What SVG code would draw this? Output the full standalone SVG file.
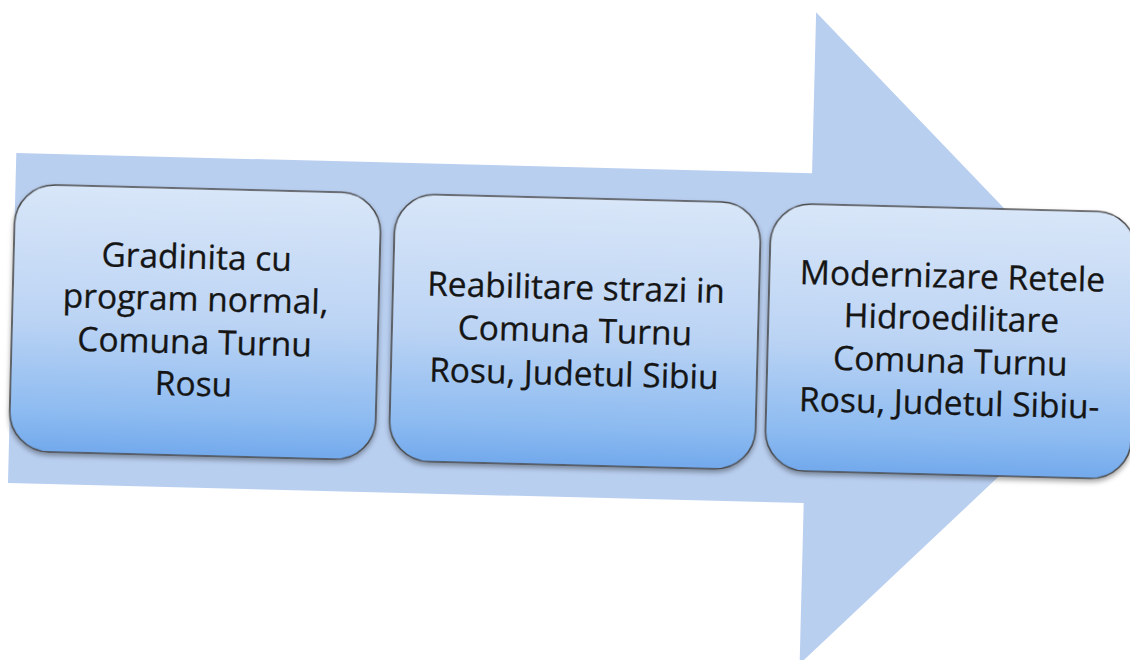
<svg xmlns="http://www.w3.org/2000/svg" width="1130" height="660" viewBox="0 0 1130 660">
<defs>
<linearGradient id="boxGrad" x1="0" y1="0" x2="0" y2="1">
<stop offset="0" stop-color="#d8e6f8"/>
<stop offset="0.5" stop-color="#bcd4f4"/>
<stop offset="0.85" stop-color="#8dbbf1"/>
<stop offset="1" stop-color="#72a9ec"/>
</linearGradient>
<filter id="shadow" x="-10%" y="-10%" width="120%" height="130%">
<feDropShadow dx="0" dy="3" stdDeviation="2.5" flood-color="#000" flood-opacity="0.35"/>
</filter>
</defs>
<style>
.box { fill: url(#boxGrad); stroke: #4a4a4a; stroke-width: 1.6; filter: url(#shadow); }
.lbl { font-family: "Open Sans", "Liberation Sans", sans-serif; font-size: 33.5px; fill: #151515; stroke: #151515; stroke-width: 0.3; text-anchor: middle; }
</style>
<rect width="1130" height="660" fill="#ffffff"/>
<g transform="rotate(1.45 565 330)">
<g id="arrow">
<polygon points="12,167 808,167 808,6 1137,332 808,658 808,497 12,497" fill="#b9cff0"/>
</g>
<g id="connectors"></g>
<g id="node1">
<rect class="box" x="12" y="198" width="366" height="267" rx="40" ry="40"/>
<text class="lbl" x="195" y="278">Gradinita cu</text>
<text class="lbl" x="195" y="320">program normal,</text>
<text class="lbl" x="195" y="363">Comuna Turnu</text>
<text class="lbl" x="195" y="405">Rosu</text>
</g>
<g id="node2">
<rect class="box" x="392" y="198" width="366" height="267" rx="40" ry="40"/>
<text class="lbl" x="575" y="299">Reabilitare strazi in</text>
<text class="lbl" x="575" y="342">Comuna Turnu</text>
<text class="lbl" x="575" y="385">Rosu, Judetul Sibiu</text>
</g>
<g id="node3">
<rect class="box" x="768" y="198" width="366" height="267" rx="40" ry="40"/>
<text class="lbl" x="951" y="278">Modernizare Retele</text>
<text class="lbl" x="951" y="320">Hidroedilitare</text>
<text class="lbl" x="951" y="363">Comuna Turnu</text>
<text class="lbl" x="951" y="405">Rosu, Judetul Sibiu-</text>
</g>
</g>
</svg>
